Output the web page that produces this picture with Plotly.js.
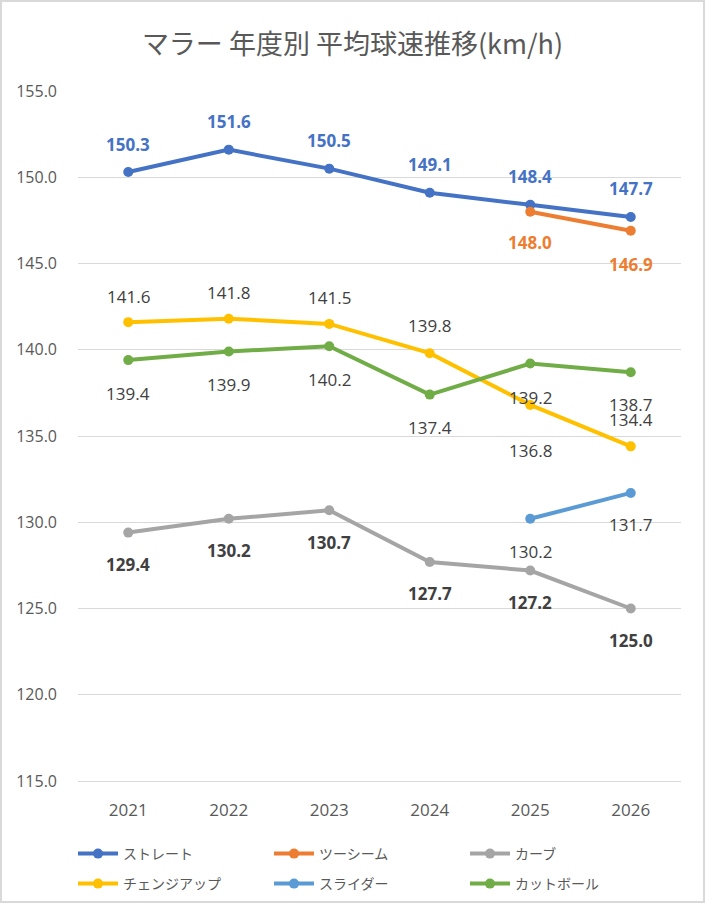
<!DOCTYPE html>
<html>
<head>
<meta charset="utf-8">
<script src="https://cdn.plot.ly/plotly-3.0.1.min.js"></script>
<style>
  html, body { margin: 0; padding: 0; background: #fff; }
  #wrap { position: relative; width: 705px; height: 903px; }
  #chart { width: 705px; height: 903px; }
  #frame { position: absolute; left: 0; top: 0; width: 705px; height: 903px; box-sizing: border-box; border: 2px solid #d9d9d9; pointer-events: none; }
</style>
</head>
<body>
<div id="wrap"><div id="chart"></div><div id="frame"></div></div>
<script>
const years = ['2021', '2022', '2023', '2024', '2025', '2026'];
const straight = [150.3, 151.6, 150.5, 149.1, 148.4, 147.7];
const twoSeam = [null, null, null, null, 148.0, 146.9];
const curve = [129.4, 130.2, 130.7, 127.7, 127.2, 125.0];
const changeup = [141.6, 141.8, 141.5, 139.8, 136.8, 134.4];
const slider = [null, null, null, null, 130.2, 131.7];
const cutter = [139.4, 139.9, 140.2, 137.4, 139.2, 138.7];
const yTicks = [115, 120, 125, 130, 135, 140, 145, 150, 155];

const NUM_FONT = '"Segoe UI", "Open Sans", "Noto Sans", sans-serif';
const JP_FONT = '"Noto Sans CJK JP", "Noto Sans", sans-serif';

const series = [
  { name: 'ストレート', y: straight, color: '#4472C4', labelColor: '#4472C4', bold: true, shift: [28, 28, 28, 28, 28, 28], legend: 'legend' },
  { name: 'ツーシーム', y: twoSeam, color: '#ED7D31', labelColor: '#ED7D31', bold: true, shift: [-32, -32, -32, -32, -31, -34], legend: 'legend' },
  { name: 'カーブ', y: curve, color: '#A5A5A5', labelColor: '#404040', bold: true, shift: [-32, -32, -32, -32, -32, -32], legend: 'legend' },
  { name: 'チェンジアップ', y: changeup, color: '#FFC000', labelColor: '#404040', bold: false, shift: [26, 26, 26, 28, -46, 27], legend: 'legend2' },
  { name: 'スライダー', y: slider, color: '#5B9BD5', labelColor: '#404040', bold: false, shift: [-33, -33, -33, -33, -33, -32], legend: 'legend2' },
  { name: 'カットボール', y: cutter, color: '#70AD47', labelColor: '#404040', bold: false, shift: [-33, -33, -33, -33, -34, -32], legend: 'legend2' }
];

const traces = series.map(s => ({
  type: 'scatter',
  mode: 'lines+markers',
  name: s.name,
  legend: s.legend,
  x: years,
  y: s.y,
  line: { color: s.color, width: 4 },
  marker: { color: s.color, size: 10 },
  hoverinfo: 'x+y+name'
}));

const annotations = [];
series.forEach(s => {
  s.y.forEach((v, i) => {
    if (v === null) return;
    annotations.push({
      x: i, y: v, xref: 'x', yref: 'y',
      text: s.bold ? '<b>' + v.toFixed(1) + '</b>' : v.toFixed(1),
      showarrow: false,
      yshift: s.shift[i],
      font: { family: NUM_FONT, size: 17, color: s.labelColor }
    });
  });
});

const legendCommon = {
  orientation: 'h',
  xref: 'container', x: 73 / 705, xanchor: 'left',
  yref: 'container', yanchor: 'top',
  entrywidth: 141, entrywidthmode: 'pixels',
  itemwidth: 40,
  font: { family: JP_FONT, size: 14, color: '#595959' },
  bgcolor: 'rgba(0,0,0,0)'
};

const layout = {
  width: 705, height: 903,
  paper_bgcolor: '#ffffff', plot_bgcolor: '#ffffff',
  margin: { l: 78, r: 24, t: 91, b: 122 },
  title: {
    text: 'マラー 年度別 平均球速推移(km/h)',
    x: 0.5, xref: 'container', xanchor: 'center',
    y: 1 - 45 / 903, yref: 'container', yanchor: 'middle',
    font: { family: JP_FONT, size: 27, color: '#595959' }
  },
  xaxis: {
    type: 'category',
    categoryorder: 'array', categoryarray: years,
    range: [-0.5, 5.5], autorange: false,
    showgrid: false, zeroline: false,
    showline: true, linecolor: '#d9d9d9', linewidth: 1,
    ticks: '', ticklabelstandoff: 14,
    tickfont: { family: NUM_FONT, size: 17, color: '#595959' },
    fixedrange: true
  },
  yaxis: {
    range: [115, 155], autorange: false,
    tickmode: 'array', tickvals: yTicks, ticktext: yTicks.map(v => v.toFixed(1)),
    showgrid: true, gridcolor: '#d9d9d9', gridwidth: 1,
    zeroline: false, showline: false,
    ticks: '', ticklabelstandoff: 20,
    tickfont: { family: NUM_FONT, size: 16, color: '#595959' },
    fixedrange: true
  },
  showlegend: true,
  legend: Object.assign({}, legendCommon, { y: 1 - 838 / 903 }),
  legend2: Object.assign({}, legendCommon, { y: 1 - 868 / 903 }),
  annotations: annotations
};

Plotly.newPlot('chart', traces, layout, { displayModeBar: false, staticPlot: true });
</script>
</body>
</html>
